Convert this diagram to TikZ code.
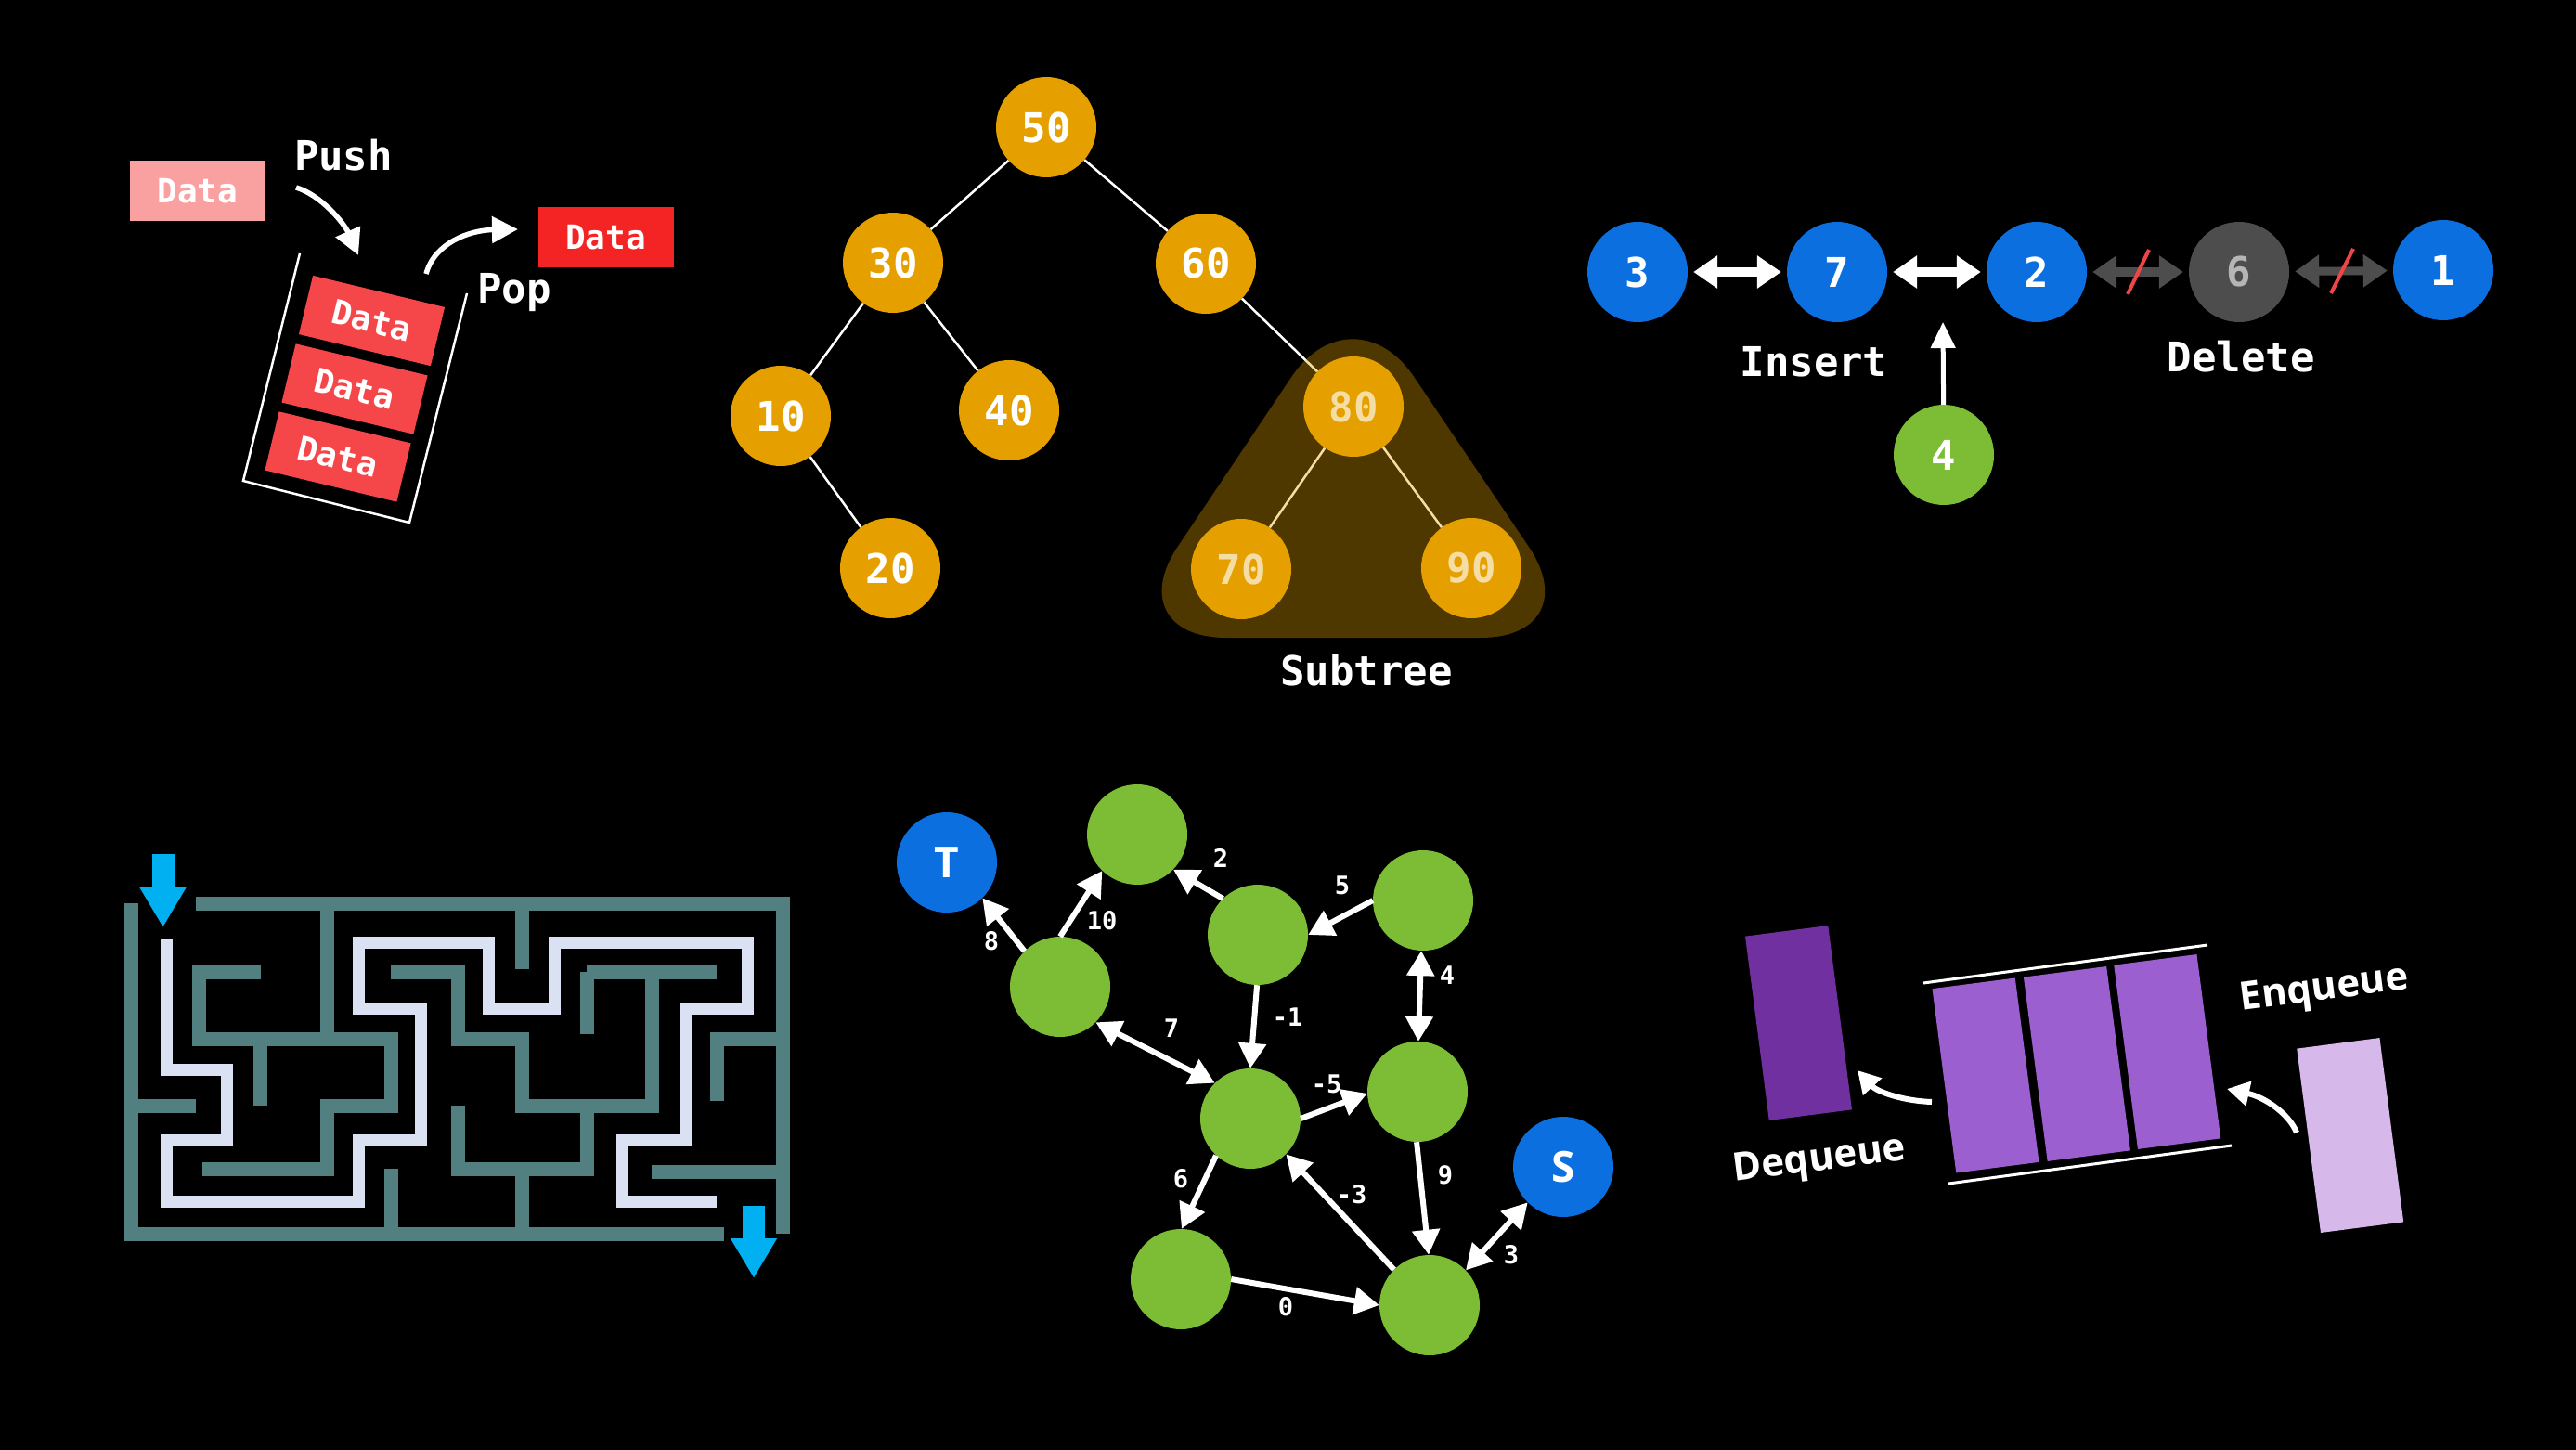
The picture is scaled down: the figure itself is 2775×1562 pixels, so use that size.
\documentclass[tikz,border=0pt]{standalone}
\usepackage{fontspec}
\newfontfamily\monof{DejaVu Sans Mono}
\newfontfamily\osans{Open Sans}
\usetikzlibrary{arrows.meta,calc}
\newcommand\myfs[1]{\fontsize{#1}{#1}\selectfont}
\definecolor{treeor}{HTML}{E5A000}
\definecolor{nblue}{HTML}{0B6FE0}
\definecolor{ngreen}{HTML}{7DBD35}
\definecolor{ngrey}{HTML}{4D4D4D}
\definecolor{ngreytext}{HTML}{B5B5B5}
\definecolor{mazewall}{HTML}{527F7F}
\definecolor{mazepath}{HTML}{DAE1F3}
\definecolor{arrblue}{HTML}{00B0F0}
\definecolor{pdark}{HTML}{7030A0}
\definecolor{pmid}{HTML}{9C5FCF}
\definecolor{plight}{HTML}{D6B8EA}
\definecolor{pinkbox}{HTML}{F9A0A0}
\definecolor{stackred}{HTML}{F5474A}
\definecolor{popred}{HTML}{F42424}
\definecolor{slashred}{HTML}{F04545}
\begin{document}
\begin{tikzpicture}[x=1pt,y=-1pt,
  databox/.style={minimum width=146pt, minimum height=65pt, inner sep=0pt, text=white, font=\monof\bfseries\myfs{36}},
  lbl/.style={text=white, inner sep=0pt, font=\monof\bfseries\myfs{44}},
  curvarrow/.style={white, line width=5.5pt, -{Triangle[length=28pt,width=28pt]}},
  tnode/.style={circle, fill=treeor, minimum size=108pt, inner sep=0pt, text=white, font=\monof\bfseries\myfs{44}},
  tedge/.style={white, line width=2.5pt},
  lnode/.style={circle, minimum size=108pt, inner sep=0pt, text=white, font=\monof\bfseries\myfs{44}},
  llarrow/.style={line width=9pt, {Triangle[length=26pt,width=34pt]}-{Triangle[length=26pt,width=34pt]}, shorten <=6pt, shorten >=6pt},
  slash/.style={slashred, line width=4pt},
  wall/.style={mazewall, line width=15pt, line cap=square, line join=miter},
  mpath/.style={mazepath, line width=13pt, line cap=butt, line join=miter},
  bluearrow/.style={arrblue, line width=24pt, -{Triangle[length=43pt,width=47pt]}},
  gnode/.style={circle, fill=ngreen, minimum size=108pt, inner sep=0pt},
  gedge/.style={white, line width=6pt, -{Triangle[length=27pt,width=29pt]}},
  gboth/.style={white, line width=6pt, {Triangle[length=27pt,width=29pt]}-{Triangle[length=27pt,width=29pt]}},
  glabel/.style={text=white, inner sep=0pt, font=\monof\bfseries\myfs{27}},
  qbox/.style={minimum width=90pt, minimum height=200pt, inner sep=0pt, rotate=7.4},
  qtext/.style={text=white, inner sep=0pt, rotate=7.4, font=\osans\bfseries\myfs{42}}
]
\useasboundingbox (0,0) rectangle (2775,1562);
\fill[black] (0,0) rectangle (2775,1562);

% ---------------- Stack ----------------
\node[databox, fill=pinkbox] (pk) at (213,205.5) {Data};
\node[databox, fill=popred] (pp) at (652.5,256) {Data};
\node[databox, fill=stackred, rotate=-13.5] (s1) at (400.5,345.5) {Data};
\node[databox, fill=stackred, rotate=-13.5] (s2) at (382,419) {Data};
\node[databox, fill=stackred, rotate=-13.5] (s3) at (364,492) {Data};
\draw[white, line width=2.5pt, line join=miter] (323,273) -- (262,518) -- (441,563) -- (503,316);
\node[lbl] (push) at (370,167) {Push};
\node[lbl] (pop) at (554,315) {Pop};
\coordinate (pushs) at (319,202);
\coordinate (pusht) at (386,275);
\coordinate (pops) at (459,295);
\coordinate (popt) at (558,247);
\draw[curvarrow] (pushs) .. controls (346,210) and (371,241) .. (pusht);
\draw[curvarrow] (pops) .. controls (468,262) and (505,248) .. (popt);

% ---------------- Tree ----------------
\node[tnode] (n50) at (1127,137) {50};
\node[tnode] (n30) at (962,283) {30};
\node[tnode] (n60) at (1299,284) {60};
\node[tnode] (n10) at (841,448) {10};
\node[tnode] (n40) at (1087,442) {40};
\node[tnode] (n20) at (959,612) {20};
\node[tnode] (n80) at (1458,438) {80};
\node[tnode] (n70) at (1337,613) {70};
\node[tnode] (n90) at (1585,612) {90};
\draw[tedge] (n50) -- (n30);
\draw[tedge] (n50) -- (n60);
\draw[tedge] (n30) -- (n10);
\draw[tedge] (n30) -- (n40);
\draw[tedge] (n10) -- (n20);
\draw[tedge] (n60) -- (n80);
\draw[tedge] (n80) -- (n70);
\draw[tedge] (n80) -- (n90);
\fill[treeor, opacity=0.35, rounded corners=118pt] (1457,308) -- (1203,687) -- (1713,687) -- cycle;
\node[lbl] (subtree) at (1472,722) {Subtree};

% ---------------- Linked list ----------------
\node[lnode, fill=nblue] (l3) at (1764,293) {3};
\node[lnode, fill=nblue] (l7) at (1979,293) {7};
\node[lnode, fill=nblue] (l2) at (2194,293) {2};
\node[lnode, fill=ngrey, text=ngreytext] (l6) at (2412,293) {6};
\node[lnode, fill=nblue] (l1) at (2632,291) {1};
\node[lnode, fill=ngreen] (l4) at (2094,490) {4};
\draw[llarrow, white] (l3) -- (l7);
\draw[llarrow, white] (l7) -- (l2);
\draw[llarrow, ngrey] (l2) -- (l6);
\draw[llarrow, ngrey] (l6) -- (l1);
\draw[slash] ($(l2)!0.5!(l6)+(12,-24)$) -- ($(l2)!0.5!(l6)+(-11,24)$);
\draw[slash] ($(l6)!0.5!(l1)+(13,-24)$) -- ($(l6)!0.5!(l1)+(-11,24)$);
\coordinate (instip) at (2093,347);
\draw[white, line width=5pt, -{Triangle[length=28pt,width=26pt]}] (l4) -- (instip);
\node[lbl] (insert) at (1954,390) {Insert};
\node[lbl] (delete) at (2414,384) {Delete};

% ---------------- Maze ----------------
\draw[wall] (211,973) -- (843,973) -- (843,1329);
\draw[mazewall, line width=15pt, line cap=butt, line join=miter] (141,973) -- (141,1329) -- (780,1329);
\draw[wall] (281,1047) -- (214,1047) -- (214,1119) -- (421,1119) -- (421,1191) -- (352,1191) -- (352,1259) -- (218,1259);
\draw[wall] (352,973) -- (352,1119);
\draw[wall] (280,1119) -- (280,1191);
\draw[wall] (141,1191) -- (211,1191);
\draw[wall] (562,973) -- (562,1044);
\draw[wall] (421,1047) -- (493,1047) -- (493,1119) -- (562,1119) -- (562,1191) -- (702,1191) -- (702,1047);
\draw[wall] (632,1047) -- (772,1047);
\draw[wall] (632,1047) -- (632,1114);
\draw[wall] (493,1191) -- (493,1259) -- (632,1259) -- (632,1191);
\draw[wall] (562,1259) -- (562,1329);
\draw[wall] (421,1259) -- (421,1329);
\draw[wall] (843,1119) -- (772,1119) -- (772,1186);
\draw[wall] (702,1262) -- (843,1262);
\draw[mpath] (179,1012) -- (179,1152) -- (244,1152) -- (244,1228) -- (179,1228) -- (179,1294) -- (386,1294) -- (386,1228) -- (453,1228) -- (453,1086) -- (386,1086) -- (386,1015) -- (526,1015) -- (526,1086) -- (597,1086) -- (597,1015) -- (805,1015) -- (805,1086) -- (738,1086) -- (738,1228) -- (670,1228) -- (670,1294) -- (772,1294);
\coordinate (ents) at (175.5,920);
\coordinate (entt) at (175.5,999);
\coordinate (exs) at (812,1299);
\coordinate (ext) at (812,1377);
\draw[bluearrow] (ents) -- (entt);
\draw[bluearrow] (exs) -- (ext);

% ---------------- Graph ----------------
\node[circle, fill=nblue, minimum size=108pt, inner sep=0pt, text=white, font=\osans\bfseries\myfs{46}] (gT) at (1020,929) {T};
\node[gnode] (gA) at (1225,899) {};
\node[gnode] (gB) at (1355,1007) {};
\node[gnode] (gC) at (1533,970) {};
\node[gnode] (gD) at (1142,1063) {};
\node[gnode] (gE) at (1347,1205) {};
\node[gnode] (gF) at (1527,1176) {};
\node[gnode] (gG) at (1272,1378) {};
\node[gnode] (gH) at (1540,1406) {};
\node[circle, fill=nblue, minimum size=108pt, inner sep=0pt, text=white, font=\osans\bfseries\myfs{46}] (gS) at (1684,1257) {S};
\draw[gedge] (gD.135) -- (gT.315);
\draw[gedge] (gD.90) -- (gA.226);
\draw[gedge] (gB.134) -- (gA.316);
\draw[gedge] (gC.180) -- (gB.0);
\draw[gboth] (gC.268) -- (gF.89);
\draw[gedge] (gB.269) -- (gE.90);
\draw[gboth] (gD.315) -- (gE.135);
\draw[gedge] (gE.0) -- (gF.182);
\draw[gedge] (gE.227) -- (gG.89);
\draw[gedge] (gH.135) -- (gE.315);
\draw[gedge] (gF.269) -- (gH.91);
\draw[gedge] (gG.0) -- (gH.180);
\draw[gboth] (gS.225) -- (gH.44);
\node[glabel] (w8) at (1068,1014) {8};
\node[glabel] (w10) at (1187,992) {10};
\node[glabel] (w2) at (1315,924) {2};
\node[glabel] (w5) at (1446,954) {5};
\node[glabel] (w4) at (1559,1051) {4};
\node[glabel] (wm1) at (1387,1096) {-1};
\node[glabel] (w7) at (1262,1108) {7};
\node[glabel] (wm5) at (1429,1168) {-5};
\node[glabel] (w6) at (1272,1270) {6};
\node[glabel] (wm3) at (1456,1287) {-3};
\node[glabel] (w9) at (1557,1266) {9};
\node[glabel] (w0) at (1385,1408) {0};
\node[glabel] (w3) at (1628,1352) {3};

% ---------------- Queue ----------------
\node[qbox, fill=pdark] (qd) at (1937.5,1102) {};
\node[qbox, fill=pmid] (q1) at (2139,1158.5) {};
\node[qbox, fill=pmid] (q2) at (2237.4,1146) {};
\node[qbox, fill=pmid] (q3) at (2334.7,1133) {};
\node[qbox, fill=plight] (qe) at (2531.7,1223) {};
\draw[white, line width=3pt] (2072,1059) -- (2378,1018);
\draw[white, line width=3pt] (2099,1275) -- (2404,1234);
\coordinate (dqs) at (2081,1187);
\coordinate (dqt) at (2001,1153);
\coordinate (eqs) at (2474,1220);
\coordinate (eqt) at (2399,1173);
\draw[white, line width=6pt, -{Triangle[length=24pt,width=26pt]}] (dqs) .. controls (2050,1186) and (2022,1176) .. (dqt);
\draw[white, line width=6pt, -{Triangle[length=24pt,width=26pt]}] (eqs) .. controls (2466,1200) and (2440,1182) .. (eqt);
\node[qtext] (deq) at (1960,1251) {Dequeue};
\node[qtext] (enq) at (2504,1067) {Enqueue};
\end{tikzpicture}
\end{document}
